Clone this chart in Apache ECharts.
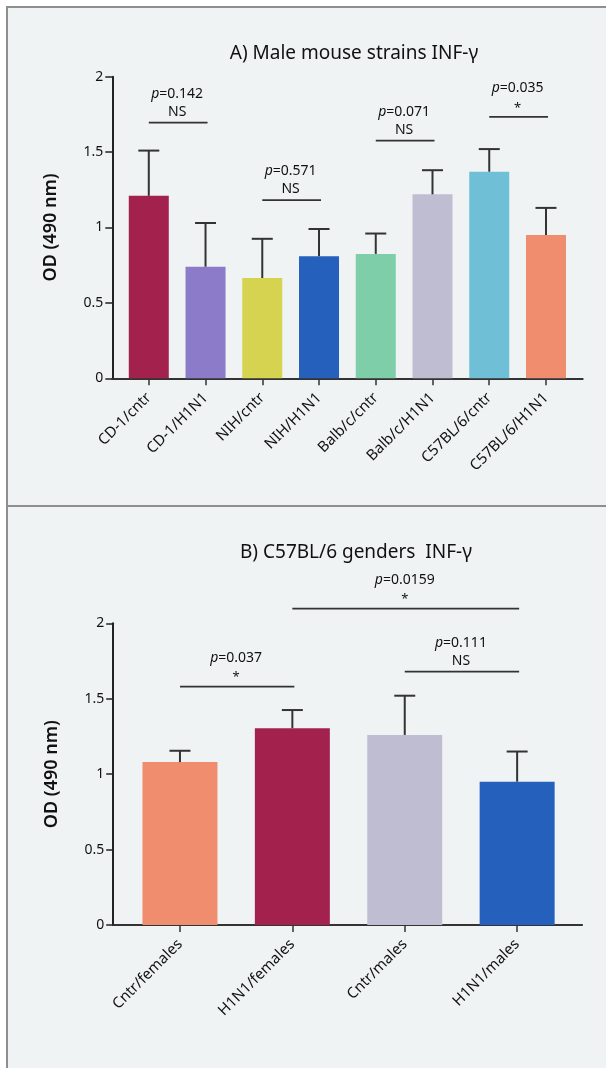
<!DOCTYPE html>
<html>
<head>
<meta charset="utf-8">
<script src="https://cdn.jsdelivr.net/npm/echarts@6/dist/echarts.min.js"></script>
<style>
  html, body { margin: 0; padding: 0; background: #ffffff; }
  #wrap { position: relative; width: 606px; height: 1068px; overflow: hidden; }
  .panel { position: absolute; left: 6px; width: 620px; background: #eff3f4;
           border-left: 2px solid #8e8e8e; border-top: 2px solid #8e8e8e; box-sizing: border-box; }
  #chart { position: absolute; left: 0; top: 0; width: 606px; height: 1068px; }
</style>
</head>
<body>
<div id="wrap">
  <div class="panel" style="top:6px;height:500px;"></div>
  <div class="panel" style="top:505px;height:580px;"></div>
  <div id="chart"></div>
</div>
<script>
// Panel A: male mouse strains
const catsA = ['CD-1/cntr', 'CD-1/H1N1', 'NIH/cntr', 'NIH/H1N1', 'Balb/c/cntr', 'Balb/c/H1N1', 'C57BL/6/cntr', 'C57BL/6/H1N1'];
const meanA = [1.21, 0.74, 0.665, 0.81, 0.825, 1.22, 1.37, 0.95];
const sdA   = [0.30, 0.29, 0.26, 0.18, 0.135, 0.16, 0.15, 0.18];
const colorsA = ['#a3214d', '#8c7bc8', '#d6d350', '#2660bd', '#7dcea9', '#bfbdd1', '#6fbfd6', '#f08d6e'];
// significance brackets: [first bar, second bar, bracket height]
const bracketsA = [[0, 1, 1.695], [2, 3, 1.182], [4, 5, 1.576], [6, 7, 1.733]];
const pTextA = ['0.142', '0.571', '0.071', '0.035'];
const sigA = ['NS', 'NS', 'NS', '*'];

// Panel B: C57BL/6 genders
const catsB = ['Cntr/females', 'H1N1/females', 'Cntr/males', 'H1N1/males'];
const meanB = [1.08, 1.305, 1.26, 0.95];
const sdB   = [0.075, 0.12, 0.26, 0.20];
const colorsB = ['#f08d6e', '#a3214d', '#bfbdd1', '#2660bd'];
const bracketsB = [[0, 1, 1.58], [2, 3, 1.68], [1, 3, 2.097]];
const pTextB = ['0.037', '0.111', '0.0159'];
const sigB = ['*', 'NS', '*'];

const yTicks = [0, 0.5, 1, 1.5, 2];

const FONT = '"Noto Sans", "Open Sans", sans-serif';
const INK = '#111';
const AXIS = '#333';

function xAxisFor(gridIndex, cats, min, max) {
  const idx = cats.map((_, i) => i);
  return {
    type: 'value', gridIndex, min, max,
    axisLine: { show: true, onZero: false, lineStyle: { color: AXIS, width: 2 } },
    axisTick: { show: true, customValues: idx, length: 7, lineStyle: { color: AXIS, width: 1.5 } },
    axisLabel: {
      customValues: idx, rotate: 45, margin: 17,
      fontSize: 15, fontFamily: FONT, color: INK,
      formatter: v => cats[Math.round(v)]
    },
    splitLine: { show: false }
  };
}

function yAxisFor(gridIndex) {
  return {
    type: 'value', gridIndex, min: yTicks[0], max: yTicks[yTicks.length - 1], interval: 0.5,
    name: 'OD (490 nm)', nameLocation: 'middle', nameGap: 52,
    nameTextStyle: { fontSize: 18, fontWeight: 600, fontFamily: FONT, color: INK },
    axisLine: { show: true, onZero: false, lineStyle: { color: '#222', width: 2 } },
    axisTick: { show: true, length: 7, lineStyle: { color: '#222', width: 1.5 } },
    axisLabel: { fontSize: 14, fontFamily: FONT, color: INK, margin: 9 },
    splitLine: { show: false }
  };
}

function barSeries(idx, means, colors, width) {
  return {
    type: 'bar', xAxisIndex: idx, yAxisIndex: idx, barWidth: width,
    data: means.map((v, i) => ({ value: [i, v], itemStyle: { color: colors[i] } })),
    silent: true, z: 2
  };
}

function errorSeries(idx, means, sds) {
  return {
    type: 'custom', xAxisIndex: idx, yAxisIndex: idx, z: 3, silent: true,
    data: means.map((v, i) => [i, v, v + sds[i]]),
    renderItem(params, api) {
      const a = api.coord([api.value(0), api.value(1)]);
      const b = api.coord([api.value(0), api.value(2)]);
      const hw = 10.5;
      const st = { stroke: '#333', lineWidth: 2 };
      return { type: 'group', children: [
        { type: 'line', shape: { x1: a[0], y1: a[1], x2: b[0], y2: b[1] }, style: st },
        { type: 'line', shape: { x1: b[0] - hw, y1: b[1], x2: b[0] + hw, y2: b[1] }, style: st }
      ]};
    }
  };
}

function bracketSeries(idx, brackets, pTexts, sigs) {
  return {
    type: 'custom', xAxisIndex: idx, yAxisIndex: idx, z: 4, silent: true, clip: false,
    data: brackets,
    renderItem(params, api) {
      const i = params.dataIndex;
      const p1 = api.coord([api.value(0), api.value(2)]);
      const p2 = api.coord([api.value(1), api.value(2)]);
      const cx = (p1[0] + p2[0]) / 2;
      const y = p1[1];
      const isStar = sigs[i] === '*';
      return { type: 'group', children: [
        { type: 'line', shape: { x1: p1[0], y1: y, x2: p2[0] + 2, y2: y },
          style: { stroke: '#333', lineWidth: 1.8 } },
        { type: 'text', x: cx, y: y - 29,
          style: {
            text: '{i|p}=' + pTexts[i],
            align: 'center', verticalAlign: 'middle',
            fontSize: 14, fontFamily: FONT, fill: INK,
            rich: { i: { fontStyle: 'italic', fontSize: 14, fontFamily: FONT, color: INK } }
          } },
        { type: 'text', x: cx, y: y - (isStar ? 9 : 11),
          style: {
            text: sigs[i], align: 'center', verticalAlign: 'middle',
            fontSize: isStar ? 13 : 14, fontFamily: FONT, fill: INK
          } }
      ]};
    }
  };
}

const chart = echarts.init(document.getElementById('chart'), null, { renderer: 'canvas' });
chart.setOption({
  backgroundColor: 'transparent',
  animation: false,
  title: [
    { text: 'A) Male mouse strains INF-γ', left: 349, top: 39, textAlign: 'center',
      textStyle: { fontSize: 19, fontWeight: 'normal', fontFamily: FONT, color: INK } },
    { text: 'B) C57BL/6 genders  INF-γ', left: 351, top: 538, textAlign: 'center',
      textStyle: { fontSize: 19, fontWeight: 'normal', fontFamily: FONT, color: INK } }
  ],
  grid: [
    { left: 112.3, right: 23.3, top: 76.7, height: 301.6 },
    { left: 113.2, right: 23.9, top: 623.3, height: 301.7 }
  ],
  xAxis: [
    xAxisFor(0, catsA, -0.643, 7.647),
    xAxisFor(1, catsB, -0.594, 3.578)
  ],
  yAxis: [yAxisFor(0), yAxisFor(1)],
  series: [
    barSeries(0, meanA, colorsA, 40),
    errorSeries(0, meanA, sdA),
    bracketSeries(0, bracketsA, pTextA, sigA),
    barSeries(1, meanB, colorsB, 75),
    errorSeries(1, meanB, sdB),
    bracketSeries(1, bracketsB, pTextB, sigB)
  ]
});
</script>
</body>
</html>
